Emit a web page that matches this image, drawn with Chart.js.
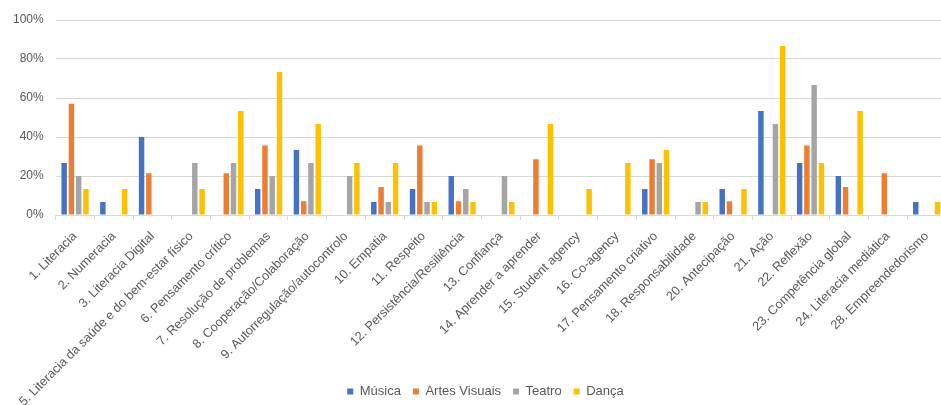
<!DOCTYPE html>
<html>
<head>
<meta charset="utf-8">
<script src="https://cdn.jsdelivr.net/npm/chart.js@4/dist/chart.umd.min.js"></script>
<style>
  html, body { margin: 0; padding: 0; background: #fff; overflow: hidden; }
  #wrap { position: relative; width: 950px; height: 408px; }
</style>
</head>
<body>
<div id="wrap"><canvas id="chart"></canvas></div>
<script>
// Competências (eixo X)
const categories = [
  "1. Literacia",
  "2. Numeracia",
  "3. Literacia Digital",
  "5. Literacia da saúde e do bem-estar físico",
  "6. Pensamento crítico",
  "7. Resolução de problemas",
  "8. Cooperação/Colaboração",
  "9. Autorregulação/autocontrolo",
  "10. Empatia",
  "11. Respeito",
  "12. Persistência/Resiliência",
  "13. Confiança",
  "14. Aprender a aprender",
  "15. Student agency",
  "16. Co-agency",
  "17. Pensamento criativo",
  "18. Responsabilidade",
  "20. Antecipação",
  "21. Ação",
  "22. Reflexão",
  "23. Competência global",
  "24. Literacia mediática",
  "28. Empreendedorismo"
];

// Percentagens por área artística
const musica = [26.7, 6.7, 40.0, 0, 0, 13.3, 33.3, 0, 6.7, 13.3, 20.0, 0, 0, 0, 0, 13.3, 0, 13.3, 53.3, 26.7, 20.0, 0, 6.7];
const artesVisuais = [57.1, 0, 21.4, 0, 21.4, 35.7, 7.1, 0, 14.3, 35.7, 7.1, 0, 28.6, 0, 0, 28.6, 0, 7.1, 0, 35.7, 14.3, 21.4, 0];
const teatro = [20.0, 0, 0, 26.7, 26.7, 20.0, 26.7, 20.0, 6.7, 6.7, 13.3, 20.0, 0, 0, 0, 26.7, 6.7, 0, 46.7, 66.7, 0, 0, 0];
const danca = [13.3, 13.3, 0, 13.3, 53.3, 73.3, 46.7, 26.7, 26.7, 6.7, 6.7, 6.7, 46.7, 13.3, 26.7, 33.3, 6.7, 13.3, 86.7, 26.7, 53.3, 0, 6.7];

const yTicks = [0, 20, 40, 60, 80, 100];

const textColor = "#595959";
const gridColor = "#d9d9d9";
const fontFamily = "'Liberation Sans', Arial, sans-serif";

function series(label, data, color) {
  return {
    label, data,
    backgroundColor: color,
    borderWidth: 0,
    categoryPercentage: 0.75,
    barPercentage: 0.75
  };
}

// Let the long rotated category labels run below the axis box,
// and nudge the legend a little to the right
const layoutTweaks = {
  id: "layoutTweaks",
  afterLayout(chart) {
    chart.scales.x.bottom = chart.height;
    chart.legend.left += 12;
    chart.legend.right += 12;
  }
};

new Chart(document.getElementById("chart"), {
  type: "bar",
  data: {
    labels: categories,
    datasets: [
      series("Música", musica, "#4472C4"),
      series("Artes Visuais", artesVisuais, "#ED7D31"),
      series("Teatro", teatro, "#A5A5A5"),
      series("Dança", danca, "#FFC000")
    ]
  },
  plugins: [layoutTweaks],
  options: {
    responsive: true,
    maintainAspectRatio: false,
    animation: false,
    layout: { padding: { top: 20, left: 1, right: 4, bottom: 0 } },
    plugins: {
      tooltip: { enabled: false },
      legend: {
        position: "bottom",
        labels: {
          color: textColor,
          font: { family: fontFamily, size: 13 },
          boxWidth: 6,
          boxHeight: 6,
          padding: 12
        }
      }
    },
    scales: {
      x: {
        grid: {
          drawOnChartArea: false,
          drawTicks: true,
          tickLength: 5,
          color: gridColor,
          offset: true
        },
        border: { display: true, color: gridColor },
        ticks: {
          autoSkip: false,
          minRotation: 45,
          maxRotation: 45,
          color: textColor,
          font: { family: fontFamily, size: 12.7 },
          padding: 9
        },
        afterFit: (scale) => { scale.height = 158; }
      },
      y: {
        min: 0,
        max: 100,
        afterBuildTicks: (scale) => { scale.ticks = yTicks.map(v => ({ value: v })); },
        grid: { color: gridColor, drawTicks: false },
        border: { display: false },
        ticks: {
          color: textColor,
          font: { family: fontFamily, size: 12 },
          padding: 12,
          callback: (v) => v + "%"
        }
      }
    }
  }
});
</script>
</body>
</html>
